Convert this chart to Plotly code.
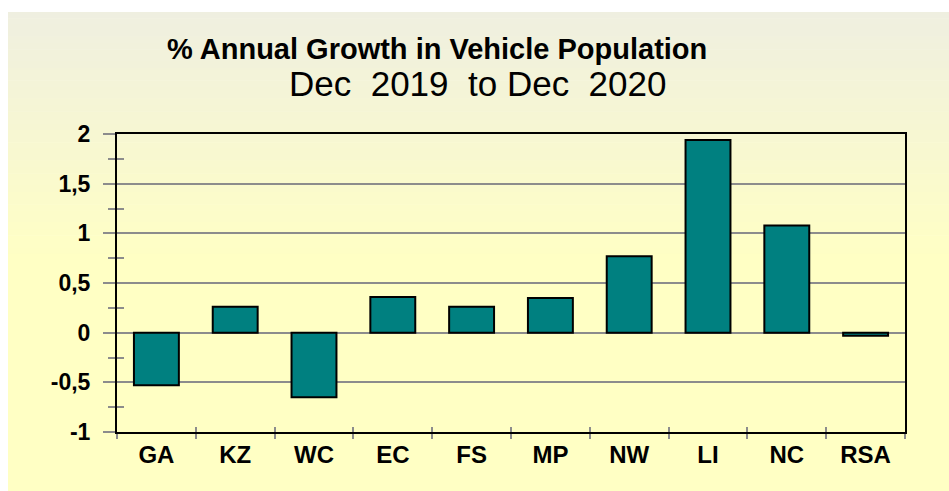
import plotly.graph_objects as go

categories = ["GA", "KZ", "WC", "EC", "FS", "MP", "NW", "LI", "NC", "RSA"]
growth = [-0.53, 0.26, -0.65, 0.36, 0.26, 0.35, 0.77, 1.94, 1.08, -0.03]
y_tickvals = [-1, -0.5, 0, 0.5, 1, 1.5, 2]
y_ticktext = ["-1", "-0,5", "0", "0,5", "1", "1,5", "2"]
title_line1 = "% Annual Growth in Vehicle Population"
title_line2 = "Dec\u00a0\u00a02019\u00a0\u00a0to Dec\u00a0\u00a02020"

W, H = 949, 491
L, R, T, B = 117, 44, 134, 59
pw, ph = W - L - R, H - T - B

def px_x(x):
    return (x - L) / pw

def px_y(y):
    return (H - B - y) / ph

FONT = "Liberation Sans, Arial, sans-serif"

fig = go.Figure()
fig.add_trace(go.Bar(
    x=categories, y=growth,
    marker=dict(color="#008080", line=dict(color="#000000", width=2)),
    width=0.57, showlegend=False, hoverinfo="x+y",
))
# helper trace so the overlay axes (crossing ticks) are drawn
fig.add_trace(go.Bar(
    x=categories, y=[None] * len(categories),
    xaxis="x2", yaxis="y2", showlegend=False, hoverinfo="skip",
))

# background gradient bands
top_c = (0xEF, 0xEF, 0xE0)
bot_c = (0xFF, 0xFF, 0xC4)
y_start, y_full, y_end = 12, 260, H
n = 40
shapes = []
for i in range(n):
    y0 = y_start + (y_full - y_start) * i / n
    y1 = y_start + (y_full - y_start) * (i + 1) / n + 0.6
    t = (i + 0.5) / n
    c = tuple(round(a + (b - a) * t) for a, b in zip(top_c, bot_c))
    shapes.append(dict(type="rect", xref="paper", yref="paper",
                       x0=px_x(8), x1=px_x(W + 5), y0=px_y(y1), y1=px_y(y0),
                       fillcolor="rgb(%d,%d,%d)" % c, line=dict(width=0), layer="below"))
shapes.append(dict(type="rect", xref="paper", yref="paper",
                   x0=px_x(8), x1=px_x(W + 5), y0=px_y(y_end + 5), y1=px_y(y_full),
                   fillcolor="rgb(%d,%d,%d)" % bot_c, line=dict(width=0), layer="below"))

GRID = "#8c8c8c"
fig.update_layout(
    width=W, height=H,
    margin=dict(l=L, r=R, t=T, b=B, pad=0),
    paper_bgcolor="#ffffff",
    plot_bgcolor="rgba(0,0,0,0)",
    separators=", ",
    shapes=shapes,
    bargap=0.43,
    xaxis=dict(
        type="category", range=[-0.5, 9.5],
        showline=True, linecolor="#000000", linewidth=2, mirror=True,
        ticks="outside", tickson="boundaries", ticklen=5, tickwidth=2, tickcolor=GRID,
        showgrid=False,
        tickfont=dict(family=FONT, size=24, color="#000000", weight="bold"),
        ticklabelstandoff=0,
    ),
    xaxis2=dict(
        type="category", range=[-0.5, 9.5], overlaying="x", anchor="y2",
        showline=False, ticks="inside", tickson="boundaries", ticklen=5, tickwidth=2,
        tickcolor=GRID, showgrid=False, showticklabels=False,
    ),
    yaxis=dict(
        range=[-1, 2], tickvals=y_tickvals, ticktext=y_ticktext,
        showline=True, linecolor="#000000", linewidth=2, mirror=True,
        ticks="outside", ticklen=12, tickwidth=2, tickcolor=GRID,
        showgrid=True, gridcolor=GRID, gridwidth=2, zeroline=False,
        minor=dict(dtick=0.25, ticks="outside", ticklen=7, tickwidth=2, tickcolor=GRID, showgrid=False),
        tickfont=dict(family=FONT, size=23, color="#000000", weight="bold"),
        ticklabelstandoff=8,
    ),
    yaxis2=dict(
        range=[-1, 2], tickvals=y_tickvals, overlaying="y", anchor="x2", side="left",
        showline=False, ticks="inside", ticklen=11, tickwidth=2, tickcolor=GRID,
        minor=dict(dtick=0.25, ticks="inside", ticklen=7, tickwidth=2, tickcolor=GRID, showgrid=False),
        showgrid=False, zeroline=False, showticklabels=False,
    ),
    annotations=[
        dict(text=title_line1, xref="paper", yref="paper", x=px_x(437), y=px_y(49),
             xanchor="center", yanchor="middle", showarrow=False,
             font=dict(family=FONT, size=29, color="#000000", weight="bold")),
        dict(text=title_line2, xref="paper", yref="paper", x=px_x(477.5), y=px_y(84),
             xanchor="center", yanchor="middle", showarrow=False,
             font=dict(family=FONT, size=35, color="#000000")),
    ],
)

fig.write_html("out.html", config={"displayModeBar": False},
               post_script="document.body.style.margin='0';document.body.style.overflow='hidden';")
